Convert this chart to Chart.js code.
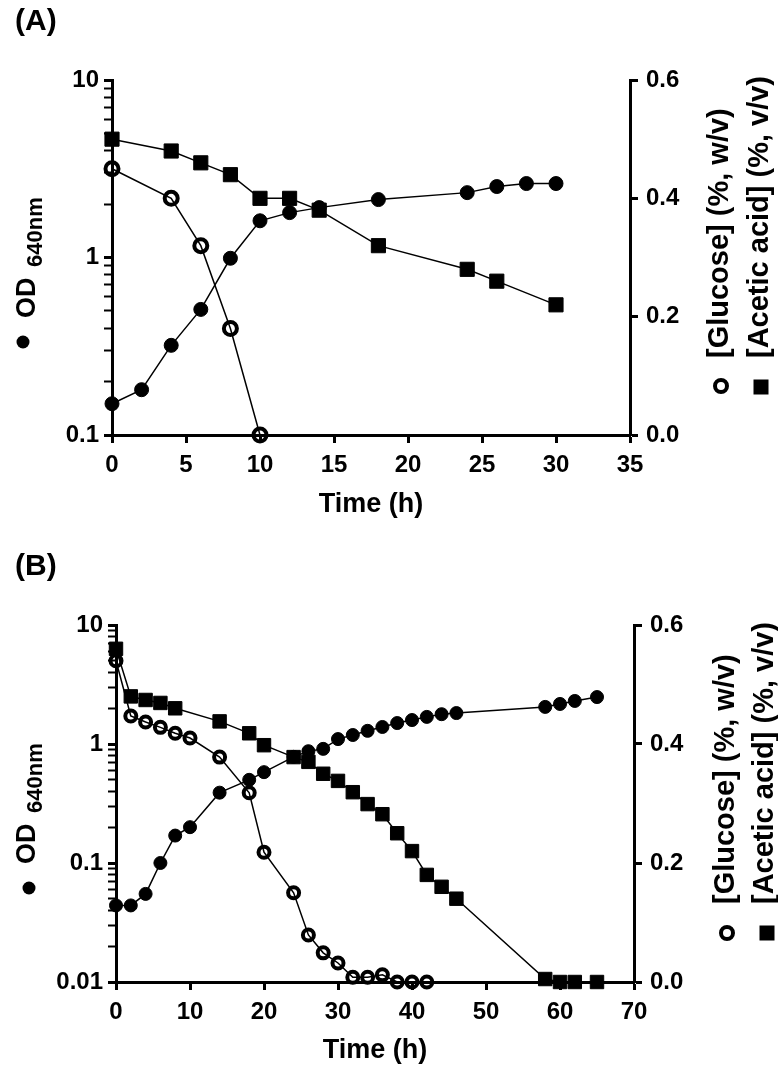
<!DOCTYPE html>
<html>
<head>
<meta charset="utf-8">
<script src="https://cdn.jsdelivr.net/npm/chart.js@4"></script>
<style>
  html, body { margin: 0; padding: 0; background: #fff; }
  #wrap { position: relative; width: 778px; height: 1069px; }
  canvas { position: absolute; left: 0; }
  #chartA { top: 0; }
  #chartB { top: 540px; }
</style>
</head>
<body>
<div id="wrap">
  <canvas id="chartA" width="778" height="530"></canvas>
  <canvas id="chartB" width="778" height="529"></canvas>
</div>
<script>
// === (A) ===
const odTimeA = [0, 2, 4, 6, 8, 10, 12, 14, 18, 24, 26, 28, 30];
const odA = [0.15, 0.18, 0.32, 0.51, 0.99, 1.61, 1.79, 1.91, 2.12, 2.32, 2.51, 2.61, 2.61];
const glcTimeA = [0, 4, 6, 8, 10];
const glcA = [0.45, 0.40, 0.32, 0.18, 0.0];
const acTimeA = [0, 4, 6, 8, 10, 12, 14, 18, 24, 26, 30];
const acA = [0.50, 0.48, 0.46, 0.44, 0.40, 0.40, 0.38, 0.32, 0.28, 0.26, 0.22];

// === (B) ===
const odTimeB = [0, 2, 4, 6, 8, 10, 14, 18, 20, 24, 26, 28, 30, 32, 34, 36, 38, 40, 42, 44, 46, 58, 60, 62, 65];
const odB = [0.044, 0.044, 0.055, 0.10, 0.17, 0.20, 0.39, 0.50, 0.58, 0.78, 0.87, 0.91, 1.10, 1.19, 1.29, 1.39, 1.50, 1.59, 1.69, 1.78, 1.82, 2.05, 2.17, 2.30, 2.48];
const glcTimeB = [0, 2, 4, 6, 8, 10, 14, 18, 20, 24, 26, 28, 30, 32, 34, 36, 38, 40, 42];
const glcB = [0.54, 0.447, 0.437, 0.428, 0.418, 0.41, 0.378, 0.318, 0.218, 0.15, 0.079, 0.049, 0.032, 0.008, 0.008, 0.012, 0.0, 0.0, 0.0];
const acTimeB = [0, 2, 4, 6, 8, 14, 18, 20, 24, 26, 28, 30, 32, 34, 36, 38, 40, 42, 44, 46, 58, 60, 62, 65];
const acB = [0.56, 0.48, 0.474, 0.469, 0.46, 0.438, 0.418, 0.398, 0.378, 0.37, 0.35, 0.338, 0.319, 0.299, 0.282, 0.25, 0.22, 0.18, 0.16, 0.14, 0.005, 0, 0, 0];

// ticks
const timeTicksA = [0, 5, 10, 15, 20, 25, 30, 35];
const timeTicksB = [0, 10, 20, 30, 40, 50, 60, 70];
const odTicksA = [0.1, 0.2, 0.3, 0.4, 0.5, 0.6, 0.7, 0.8, 0.9, 1, 2, 3, 4, 5, 6, 7, 8, 9, 10];
const odTicksB = [0.01, 0.02, 0.03, 0.04, 0.05, 0.06, 0.07, 0.08, 0.09, 0.1, 0.2, 0.3, 0.4, 0.5, 0.6, 0.7, 0.8, 0.9, 1, 2, 3, 4, 5, 6, 7, 8, 9, 10];
const odLabels = [0.01, 0.1, 1, 10];
const concTicks = [0, 0.2, 0.4, 0.6];

const FONT = "'Liberation Sans', Arial, Helvetica, sans-serif";

function pts(xs, ys) {
  return xs.map((x, i) => ({ x: x, y: ys[i] }));
}

function rotText(ctx, txt, x, y, size) {
  ctx.save();
  ctx.translate(x, y);
  ctx.rotate(-Math.PI / 2);
  ctx.font = "bold " + size + "px " + FONT;
  ctx.textAlign = "left";
  ctx.textBaseline = "alphabetic";
  ctx.fillStyle = "#000";
  ctx.fillText(txt, 0, 0);
  ctx.restore();
}

// titulos, letras do painel e simbolos das legendas
function titlesPlugin(p) {
  return {
    id: "titles",
    afterDraw(chart) {
      const ctx = chart.ctx;
      const area = chart.chartArea;
      ctx.save();
      ctx.fillStyle = "#000";
      ctx.font = "bold 30px " + FONT;
      ctx.textBaseline = "alphabetic";
      ctx.fillText(p.letter, 15, p.letterY);

      ctx.font = "bold 27px " + FONT;
      ctx.textAlign = "center";
      ctx.fillText("Time (h)", (area.left + area.right) / 2, p.timeY);

      // eixo esquerdo
      ctx.beginPath();
      ctx.arc(p.dot[0], p.dot[1], 6.5, 0, Math.PI * 2);
      ctx.fill();
      rotText(ctx, "OD", p.odX, p.odY, 27);
      rotText(ctx, "640nm", p.odX + 7, p.odY - 51, 22);

      // eixo direito
      ctx.beginPath();
      ctx.lineWidth = 4;
      ctx.arc(p.ring[0], p.ring[1], 6, 0, Math.PI * 2);
      ctx.stroke();
      ctx.fillRect(p.sq[0] - 7.5, p.sq[1] - 7.5, 15, 15);
      rotText(ctx, "[Glucose] (%, w/v)", p.r1X, p.rY, 29);
      rotText(ctx, "[Acetic acid] (%, v/v)", p.r2X, p.rY, 29);
      ctx.restore();
    }
  };
}

function makeChart(id, p) {
  const tickFont = { family: FONT, size: 24, weight: "bold" };
  new Chart(document.getElementById(id), {
    type: "line",
    data: {
      datasets: [
        {
          label: "OD",
          data: pts(p.odTime, p.od),
          yAxisID: "y",
          borderColor: "#000",
          borderWidth: 1.5,
          pointStyle: "circle",
          pointRadius: p.dotR,
          pointBackgroundColor: "#000",
          pointBorderColor: "#000",
          pointBorderWidth: 1,
          clip: false
        },
        {
          label: "Glucose",
          data: pts(p.glcTime, p.glc),
          yAxisID: "y1",
          borderColor: "#000",
          borderWidth: 1.5,
          pointStyle: "circle",
          pointRadius: p.ringR,
          pointBackgroundColor: "rgba(0,0,0,0)",
          pointBorderColor: "#000",
          pointBorderWidth: 4,
          clip: false
        },
        {
          label: "Acetic acid",
          data: pts(p.acTime, p.ac),
          yAxisID: "y1",
          borderColor: "#000",
          borderWidth: 1.5,
          pointStyle: "rect",
          pointRadius: p.sqR,
          pointBackgroundColor: "#000",
          pointBorderColor: "#000",
          pointBorderWidth: 1,
          clip: false
        }
      ]
    },
    options: {
      responsive: false,
      animation: false,
      layout: { padding: { top: p.top, left: 0, right: 0, bottom: 0 } },
      plugins: { legend: { display: false }, tooltip: { enabled: false } },
      scales: {
        x: {
          type: "linear",
          min: 0,
          max: p.xMax,
          afterFit: s => { s.height = p.xH; },
          afterBuildTicks: s => { s.ticks = p.xTicks.map(v => ({ value: v })); },
          grid: { drawOnChartArea: false, tickLength: 8, tickWidth: 3, tickColor: "#000" },
          border: { color: "#000", width: 3 },
          ticks: { color: "#000", font: tickFont, padding: 8, maxRotation: 0, autoSkip: false }
        },
        y: {
          type: "logarithmic",
          position: "left",
          min: p.logTicks[0],
          max: 10,
          afterFit: s => { s.width = p.left; },
          afterBuildTicks: s => { s.ticks = p.logTicks.map(v => ({ value: v })); },
          grid: {
            drawOnChartArea: false,
            tickLength: 8,
            tickColor: "#000",
            tickWidth: c => (c.tick && odLabels.includes(c.tick.value) ? 3 : 2)
          },
          border: { color: "#000", width: 3 },
          ticks: {
            color: "#000",
            font: tickFont,
            padding: 5,
            autoSkip: false,
            callback: v => (odLabels.includes(v) ? String(v) : "")
          }
        },
        y1: {
          type: "linear",
          position: "right",
          min: 0,
          max: 0.6,
          afterFit: s => { s.width = 778 - p.right; },
          afterBuildTicks: s => { s.ticks = concTicks.map(v => ({ value: v })); },
          grid: { drawOnChartArea: false, tickLength: 8, tickWidth: 3, tickColor: "#000" },
          border: { color: "#000", width: 3 },
          ticks: { color: "#000", font: tickFont, padding: 8, callback: v => v.toFixed(1) }
        }
      }
    },
    plugins: [titlesPlugin(p)]
  });
}

makeChart("chartA", {
  odTime: odTimeA, od: odA, glcTime: glcTimeA, glc: glcA, acTime: acTimeA, ac: acA,
  xTicks: timeTicksA, xMax: 35, logTicks: odTicksA,
  top: 80, left: 112, right: 630, xH: 95,
  dotR: 7, ringR: 6.5, sqR: 10,
  letter: "(A)", letterY: 30, timeY: 512,
  dot: [23, 342], odX: 35, odY: 318,
  ring: [721, 386], sq: [761, 387], r1X: 728, r2X: 768, rY: 358
});

makeChart("chartB", {
  odTime: odTimeB, od: odB, glcTime: glcTimeB, glc: glcB, acTime: acTimeB, ac: acB,
  xTicks: timeTicksB, xMax: 70, logTicks: odTicksB,
  top: 85, left: 116, right: 634, xH: 87,
  dotR: 6.5, ringR: 5.5, sqR: 9.5,
  letter: "(B)", letterY: 35, timeY: 518,
  dot: [29, 348], odX: 35, odY: 324,
  ring: [727, 393], sq: [767, 393], r1X: 734, r2X: 773, rY: 364
});
</script>
</body>
</html>
